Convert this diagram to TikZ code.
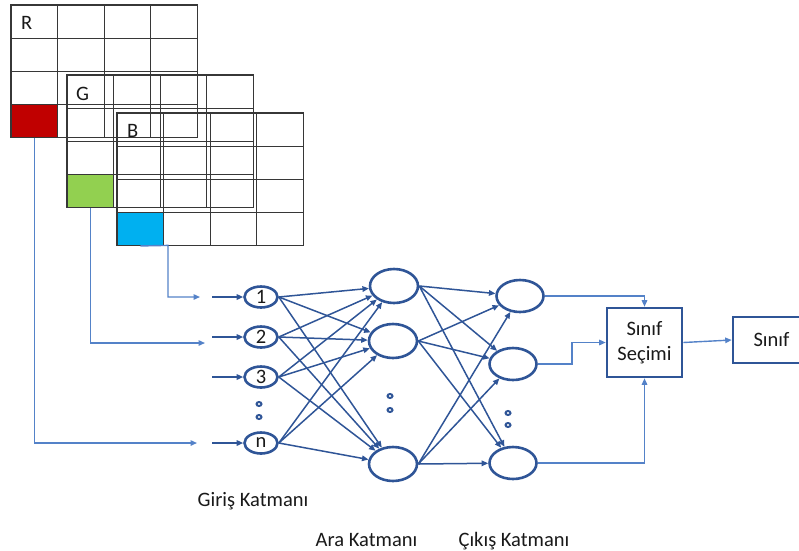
\documentclass[tikz,border=0pt]{standalone}
\usepackage{fontspec}
\setmainfont{Carlito}
\usetikzlibrary{arrows.meta,calc,shapes.geometric}

\definecolor{netblue}{RGB}{47,85,151}
\definecolor{linkblue}{RGB}{84,130,200}
\definecolor{gridgray}{RGB}{55,55,55}
\definecolor{cellred}{RGB}{192,0,0}
\definecolor{cellgreen}{RGB}{146,208,80}
\definecolor{cellblue}{RGB}{0,176,240}

\tikzset{
  txt/.style={font=\fontsize{20.5}{25}\selectfont, text=black!90},
  cellbox/.style={draw=gridgray, line width=1.1pt},
  pixel/.style={rectangle, draw=gridgray, line width=1.1pt, inner sep=0pt,
    minimum width=46.6pt, minimum height=33.1pt},
  innode/.style={ellipse, draw=netblue, line width=2.6pt, inner sep=0pt,
    minimum width=33pt, minimum height=21pt, txt},
  hidnode/.style={ellipse, draw=netblue, line width=2.6pt, inner sep=0pt,
    minimum width=48pt, minimum height=34pt},
  outnode/.style={ellipse, draw=netblue, line width=2.6pt, inner sep=0pt,
    minimum width=47pt, minimum height=32pt},
  dotmark/.style={ellipse, draw=netblue, line width=2pt, inner sep=0pt,
    minimum width=5pt, minimum height=4pt},
  blockbox/.style={rectangle, draw=netblue, line width=2.6pt, inner sep=0pt,
    fill=white, txt, align=center},
  wire/.style={netblue, line width=1.5pt, -{Triangle[length=6.5pt,width=5.5pt]}},
  link/.style={linkblue, line width=1.4pt, -{Triangle[length=6.5pt,width=5.5pt]}},
  lbl/.style={txt, inner sep=0pt, anchor=base}
}

\begin{document}
\begin{tikzpicture}[x=1pt,y=-1pt]
\useasboundingbox (0,0) rectangle (799,550);

% three overlapping colour-channel grids (R, G, B)
\foreach \gx/\gy in {11/5, 67/75, 117/113}{
  \foreach \i in {0,...,3}{
    \foreach \j in {0,...,3}{
      \draw[cellbox] (\gx+\i*46.6, \gy+\j*33.1) rectangle ++(46.6,33.1);
    }
  }
}
\node[pixel, fill=cellred]   (rcell) at (11+23.3, 5+3*33.1+16.55) {};
\node[pixel, fill=cellgreen] (gcell) at (67+23.3, 75+3*33.1+16.55) {};
\node[pixel, fill=cellblue]  (bcell) at (117+23.3, 113+3*33.1+16.55) {};

\node[txt, inner sep=0pt, anchor=base west] (labR) at (21,29)  {R};
\node[txt, inner sep=0pt, anchor=base west] (labG) at (76,100) {G};
\node[txt, inner sep=0pt, anchor=base west] (labB) at (127,137) {B};

% input layer
\node[innode] (i1) at (261,297) {1};
\node[innode] (i2) at (261,337) {2};
\node[innode] (i3) at (261,377) {3};
\node[innode] (iN) at (261,443) {n};
\node[dotmark] (id1) at (259,404) {};
\node[dotmark] (id2) at (259,417) {};

% hidden layer
\node[hidnode] (h1) at (394,286) {};
\node[hidnode] (h2) at (393,341) {};
\node[hidnode] (h3) at (393,464) {};
\node[dotmark] (hd1) at (390,396) {};
\node[dotmark] (hd2) at (390,410) {};

% output layer
\node[outnode] (o1) at (520,296) {};
\node[outnode] (o2) at (513,364) {};
\node[outnode] (o3) at (513,463) {};
\node[dotmark] (od1) at (508,413) {};
\node[dotmark] (od2) at (508,425) {};

% class selection and class
\node[blockbox, minimum width=75pt, minimum height=69pt] (sel) at (644.5,342.5) {Sınıf\\Seçimi};
\node[blockbox, minimum width=77pt, minimum height=46pt] (cls) at (771.5,340) {Sınıf};

% short feed arrows into the input neurons
\foreach \k/\y in {i1/297, i2/337, i3/377, iN/443}{
  \coordinate (s\k) at (212,\y);
  \draw[wire] (s\k) -- (\k.west);
}

% pixel channels routed to the inputs
\coordinate (e1) at (200,297);
\coordinate (e2) at (205,343);
\coordinate (eN) at (197,443);
\coordinate (bturn) at (168,245.4);
\draw[link] (bcell.south) -- (bturn) |- (e1);
\draw[link] (gcell.south) |- (e2);
\draw[link] (rcell.south) |- (eN);

% fully connected layers
\foreach \a in {i1,i2,i3,iN}{
  \foreach \b in {h1,h2,h3}{
    \draw[wire] (\a.east) -- (\b);
  }
}
\foreach \a in {h1,h2,h3}{
  \foreach \b in {o1,o2,o3}{
    \draw[wire] (\a.east) -- (\b);
  }
}

% outputs to class selection
\coordinate (mid) at (572,0);
\draw[link] (o1.east) -| (sel.north);
\draw[link] (o2.east) -| (mid |- sel.west) -- (sel.west);
\draw[link] (o3.east) -| (sel.south);
\draw[link] (sel.east) -- (cls.west);

% layer captions
\node[lbl] (capIn)  at (253,506)   {Giriş Katmanı};
\node[lbl] (capHid) at (366.5,546) {Ara Katmanı};
\node[lbl] (capOut) at (514,546)   {Çıkış Katmanı};
\end{tikzpicture}
\end{document}
